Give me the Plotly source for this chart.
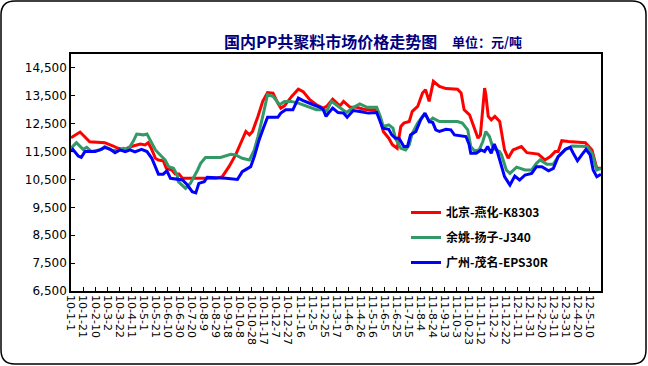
import pandas as pd
import plotly.graph_objects as go

START = "2010-01-01"
END = "2012-05-29"

# Day offsets from 2010-01-01 and prices (元/吨)
red_days = [0, 15, 31, 56, 70, 78, 90, 95, 103, 115, 123, 128, 133, 140, 145, 153, 158, 167, 173, 179, 185,
            240, 251, 262, 273, 282, 290, 296, 301, 310, 318, 326, 335, 343, 348, 354, 366, 377, 385, 396,
            407, 418, 424, 434, 441, 446, 452, 463, 474, 485, 496, 507, 513, 518, 527, 533, 541, 547, 552,
            561, 566, 575, 583, 588, 594, 601, 611, 622, 641, 647, 652, 661, 666, 675, 679, 683, 686, 688,
            692, 697, 703, 711, 714, 719, 725, 733, 747, 756, 775, 786, 795, 803, 808, 814, 825, 853, 864,
            872, 879]
red_vals = [12000, 12200, 11850, 11820, 11700, 11620, 11560, 11640, 11700, 11770, 11740, 11820, 11620, 11260,
            11200, 11170, 10900, 10840, 10700, 10700, 10540,
            10540, 10600, 10960, 11380, 11860, 12220, 12100, 12220, 12760, 13300, 13620, 13600, 13240, 13060,
            13140, 13480, 13740, 13650, 13360, 13180, 13060, 13120, 13380, 13240, 13140, 13300, 13090, 13090,
            13020, 13000, 13000, 12640, 12220, 11980, 11750, 11620, 12400, 12520, 12580, 12940, 13120, 13600,
            13720, 13300, 14020, 13840, 13760, 13740, 13600, 13000, 12820, 12520, 11980, 12100, 13000, 13780,
            13540, 12760, 12640, 12760, 12580, 12160, 11560, 11260, 11560, 11680, 11460, 11410, 11200, 11320,
            11500, 11500, 11890, 11860, 11820, 11560, 10900, 10900]

green_days = [0, 9, 20, 26, 34, 51, 56, 67, 78, 87, 95, 103, 109, 120, 126, 131, 140, 148, 156, 162, 170, 176,
              178, 190, 198, 210, 215, 223, 248, 265, 273, 284, 296, 304, 310, 318, 326, 335, 346, 354, 365,
              377, 396, 407, 418, 424, 432, 446, 457, 468, 479, 491, 507, 513, 518, 527, 534, 538, 547, 555,
              561, 566, 575, 583, 588, 594, 600, 611, 641, 649, 658, 663, 669, 677, 683, 688, 694, 700, 711,
              714, 722, 728, 739, 753, 764, 772, 778, 789, 800, 808, 820, 831, 856, 864, 872, 879]
green_vals = [11620, 11820, 11580, 11650, 11500, 11580, 11680, 11560, 11530, 11620, 11580, 11860, 12130, 12100,
              12130, 11920, 11560, 11380, 11200, 10960, 10900, 10660, 10420, 10180, 10360, 10840, 11080, 11290,
              11290, 11400, 11380, 11260, 11200, 11560, 12030, 12760, 13540, 13480, 13180, 13300, 13300, 13240,
              13090, 13000, 13000, 12950, 13300, 13060, 12900, 13080, 13210, 13090, 13090, 12760, 12400, 12460,
              12340, 11980, 11620, 11560, 11740, 12160, 12520, 12760, 12820, 12580, 12700, 12580, 12580, 12520,
              12280, 11680, 11530, 11560, 11860, 12220, 12040, 11620, 11500, 11380, 10840, 10720, 10940, 10840,
              10840, 11080, 11200, 11050, 11050, 11320, 11580, 11700, 11680, 11440, 10840, 10900]

blue_days = [0, 3, 12, 17, 23, 40, 48, 56, 65, 73, 81, 90, 98, 106, 117, 126, 134, 140, 145, 153, 159, 165, 176,
             185, 193, 201, 207, 212, 221, 226, 257, 271, 276, 284, 293, 298, 304, 312, 319, 326, 343, 348, 356,
             368, 377, 385, 402, 413, 418, 423, 427, 434, 443, 452, 458, 468, 479, 493, 507, 513, 517, 527, 532,
             538, 544, 552, 558, 563, 572, 580, 587, 594, 600, 605, 611, 622, 630, 636, 647, 655, 660, 663, 672,
             680, 686, 691, 697, 702, 707, 712, 714, 719, 728, 736, 744, 753, 764, 772, 781, 792, 800, 808, 820,
             828, 833, 840, 847, 854, 861, 866, 872, 879]
blue_vals = [11500, 11580, 11340, 11290, 11500, 11500, 11560, 11650, 11580, 11460, 11560, 11500, 11560, 11490,
             11580, 11500, 11260, 10960, 10690, 10690, 10810, 10540, 10500, 10480, 10300, 10060, 10020, 10360,
             10420, 10580, 10540, 10500, 10500, 10780, 10900, 10960, 11320, 11920, 12340, 12730, 12730, 12880,
             13000, 13000, 13420, 13330, 13180, 13090, 13020, 12760, 12880, 13060, 12900, 12880, 12730, 12970,
             12940, 12880, 12900, 12580, 12340, 12300, 12100, 11980, 11980, 11680, 11680, 12100, 12220, 12640,
             12880, 12580, 12540, 12280, 12220, 12300, 12280, 12100, 12070, 12040, 11770, 11440, 11440, 11560,
             11500, 11680, 11440, 11770, 11500, 11100, 11020, 10600, 10300, 10620, 10480, 10660, 10720, 10960,
             10960, 10810, 10900, 11320, 11580, 11650, 11440, 11170, 11380, 11580, 11380, 10840, 10600, 10690]

series_names = ["北京-燕化-K8303", "余姚-扬子-J340", "广州-茂名-EPS30R"]
series_colors = ["#FF0000", "#339966", "#0000FF"]
y_ticks = [6500, 7500, 8500, 9500, 10500, 11500, 12500, 13500, 14500]

title_main = "国内PP共聚料市场价格走势图"
title_unit = "单位：元/吨"


def to_dates(days):
    return pd.Timestamp(START) + pd.to_timedelta(days, unit="D")


fig = go.Figure()
for i, (d, v) in enumerate([(red_days, red_vals), (green_days, green_vals), (blue_days, blue_vals)]):
    fig.add_trace(go.Scatter(
        x=to_dates(d), y=v, mode="lines", name=f"<b>{series_names[i]}</b>",
        legendgroup=f"g{i}",
        line=dict(color=series_colors[i], width=3),
    ))

# plot area geometry (px) for frame conversion
W, H = 648, 366
L, R, T, B = 71, 47, 54, 75
PW, PH = W - L - R, H - T - B


def px(x):
    return (x - L) / PW


def py(y):
    return (H - B - y) / PH


x0, y0, x1, y1, r = 1, 1, 646, 364, 14
path = (f"M {px(x0 + r)},{py(y0)} L {px(x1 - r)},{py(y0)} Q {px(x1)},{py(y0)} {px(x1)},{py(y0 + r)} "
        f"L {px(x1)},{py(y1 - r)} Q {px(x1)},{py(y1)} {px(x1 - r)},{py(y1)} "
        f"L {px(x0 + r)},{py(y1)} Q {px(x0)},{py(y1)} {px(x0)},{py(y1 - r)} "
        f"L {px(x0)},{py(y0 + r)} Q {px(x0)},{py(y0)} {px(x0 + r)},{py(y0)} Z")

fig.add_shape(type="path", path=path, xref="paper", yref="paper",
              line=dict(color="black", width=1.5), layer="below")

fig.add_annotation(text=f"<b>{title_main}</b>", x=px(330), y=py(41), xref="paper", yref="paper",
                   showarrow=False, font=dict(family="Noto Sans CJK SC", size=16, color="#000080"),
                   xanchor="center", yanchor="middle")
fig.add_annotation(text=f"<b>{title_unit}</b>", x=px(450), y=py(42), xref="paper", yref="paper",
                   showarrow=False, font=dict(family="Noto Sans CJK SC", size=13, color="#000080"),
                   xanchor="left", yanchor="middle")

fig.update_layout(
    width=W, height=H,
    margin=dict(l=L, r=R, t=T, b=B),
    paper_bgcolor="white", plot_bgcolor="white",
    font=dict(family="DejaVu Sans", color="black"),
    showlegend=True,
    legend=dict(x=px(406), y=py(198), xanchor="left", yanchor="top",
                bgcolor="rgba(0,0,0,0)", tracegroupgap=6,
                font=dict(family="Noto Sans CJK SC", size=12, color="black"),
                itemwidth=30),
)

fig.update_xaxes(
    type="date", range=[START, END],
    tick0=START, dtick=20 * 86400000, tickformat="%y-%-m-%-d", tickangle=90,
    ticks="inside", ticklen=4, tickcolor="black",
    showline=True, linecolor="black", linewidth=1.5, mirror=True,
    showgrid=False, zeroline=False,
    tickfont=dict(family="DejaVu Sans", size=11, color="black"),
)
fig.update_yaxes(
    range=[6500, 15000], tickvals=y_ticks, tickformat=",",
    ticks="inside", ticklen=4, tickcolor="black",
    showline=True, linecolor="black", linewidth=1.5, mirror=True,
    showgrid=False, zeroline=False,
    tickfont=dict(family="DejaVu Sans", size=12, color="black"),
)

fig.write_html("out.html", config={"displayModeBar": False},
               post_script="document.body.style.margin='0px';")
